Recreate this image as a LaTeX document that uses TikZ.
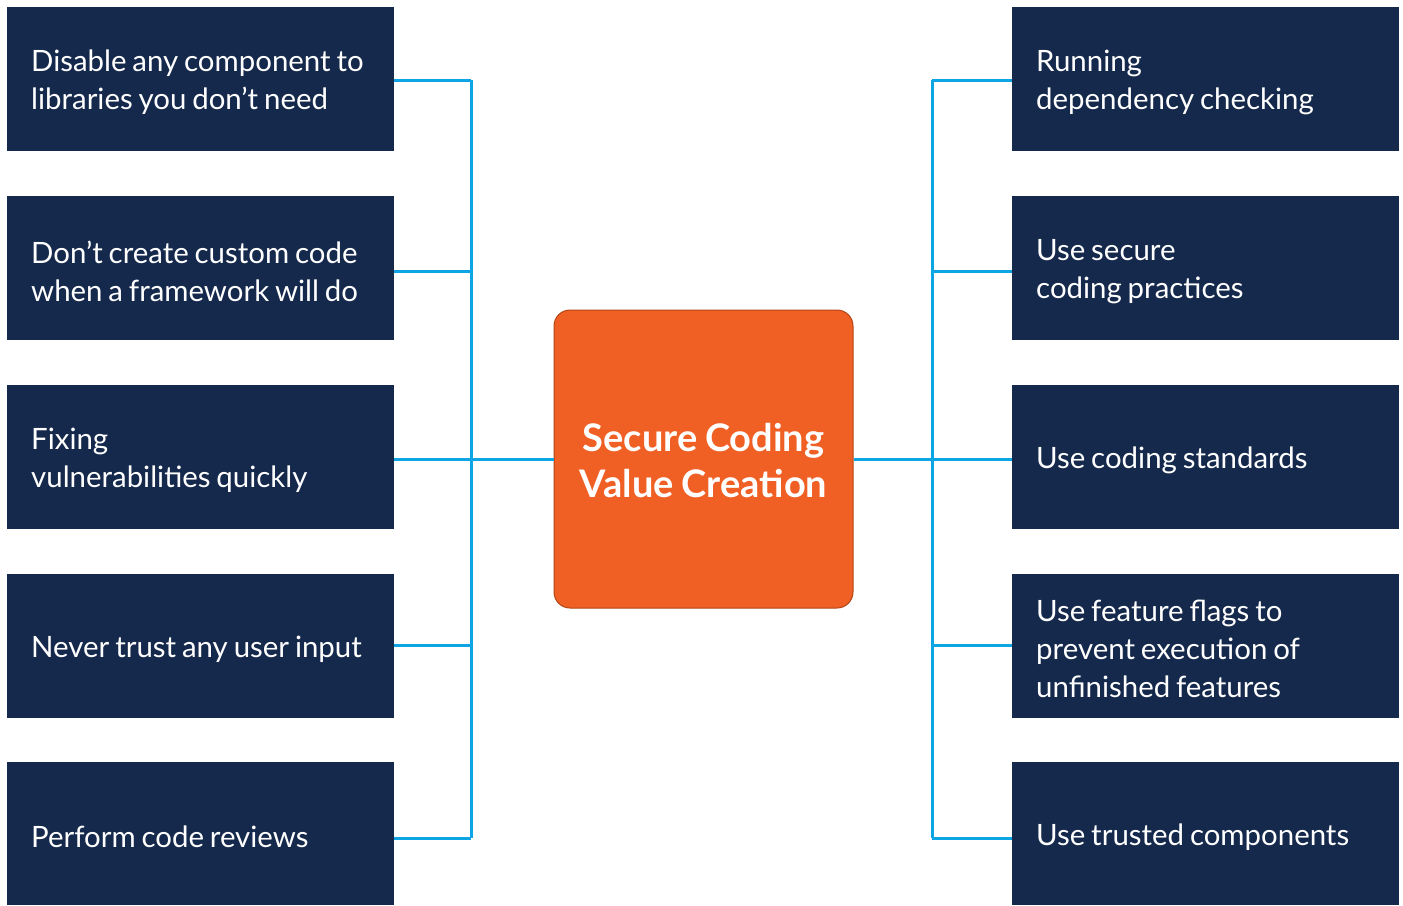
\documentclass[tikz,border=0pt]{standalone}
\usepackage{fontspec}
\setmainfont{Lato}
\definecolor{navybox}{RGB}{21,41,76}
\definecolor{hubfill}{RGB}{240,95,36}
\definecolor{hubedge}{RGB}{178,70,22}
\definecolor{wire}{RGB}{14,165,228}
% narrower interword spaces
\newcommand\tightwords{\spaceskip=0.2em\xspaceskip=0.2em\relax}
\begin{document}
\begin{tikzpicture}[x=1pt,y=-1pt,
  box/.style={fill=navybox, draw=none, anchor=north west,
    minimum width=387pt, minimum height=144pt, inner sep=0pt},
  caption/.style={text=white, anchor=west, inner sep=0pt, text width=360pt,
    align=left, font=\fontsize{29.4}{38}\selectfont},
  hub/.style={fill=hubfill, draw=hubedge, line width=1pt, rounded corners=16pt,
    minimum width=299pt, minimum height=298pt, inner sep=0pt},
  hubtext/.style={text=white, align=center, inner sep=0pt, text width=290pt,
    font=\bfseries\fontsize{38}{46}\selectfont},
  link/.style={draw=wire, line width=3pt}]
\useasboundingbox (0,0) rectangle (1403,905);

% a dark box with its caption, set 24pt in from the left edge
\newcommand\itembox[4][144]{%
  \node[box, minimum height=#1pt] (#2) at (#3) {};
  \node[caption] (#2t) at ([xshift=24pt,yshift=-3pt]#2.west) {\tightwords #4};}

% left column
\itembox{L1}{7,7}{Disable any component to\\libraries you don’t need}
\itembox{L2}{7,196}{Don’t create custom code\\when a framework will do}
\itembox{L3}{7,385}{Fixing\\vulnerabilities quickly}
\itembox{L4}{7,574}{Never trust any user input}
\itembox[143]{L5}{7,762}{Perform code reviews}

% right column
\itembox{R1}{1012,7}{Running\\dependency checking}
\itembox{R2}{1012,196}{Use secure\\coding practices}
\itembox{R3}{1012,385}{Use coding standards}
\itembox{R4}{1012,574}{Use feature flags to\\prevent execution of\\unfinished features}
\itembox[143]{R5}{1012,762}{Use trusted components}

% central hub
\node[hub] (hub) at (703.5,459) {};
\node[hubtext] (hubt) at ([yshift=-2pt]hub.center) {\tightwords Secure Coding\\Value Creation};

% bus junctions
\coordinate (a1) at (471,80);
\coordinate (a2) at (471,271);
\coordinate (a3) at (471,459);
\coordinate (a4) at (471,645);
\coordinate (a5) at (471,838);
\coordinate (b1) at (932,80);
\coordinate (b2) at (932,271);
\coordinate (b3) at (932,459);
\coordinate (b4) at (932,645);
\coordinate (b5) at (932,838);

% connectors
\draw[link] (a1) -- (a5);
\draw[link] (b1) -- (b5);
\foreach \i in {1,2,4,5} {
  \draw[link] (L\i.east |- a\i) -- (a\i);
  \draw[link] (R\i.west |- b\i) -- (b\i);
}
\draw[link] (L3.east |- a3) -- (hub.west |- a3);
\draw[link] (hub.east |- b3) -- (R3.west |- b3);
\end{tikzpicture}
\end{document}
